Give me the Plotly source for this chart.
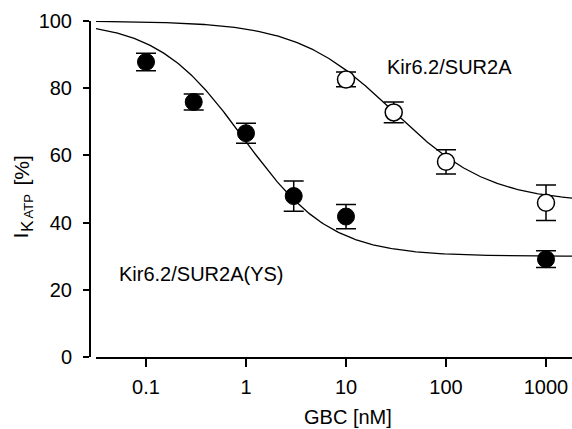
import numpy as np
import plotly.graph_objects as go

# GBC concentrations (nM) and normalised K_ATP current (%), mean ± SEM
conc_ys = [0.1, 0.3, 1, 3, 10, 1000]
current_ys = [87.8, 75.9, 66.6, 47.9, 41.8, 29.1]
sem_ys = [2.6, 2.4, 3.0, 4.5, 3.6, 2.5]

conc_wt = [10, 30, 100, 1000]
current_wt = [82.6, 72.8, 58.1, 45.9]
sem_wt = [2.2, 3.1, 3.6, 5.3]

# Hill fit parameters: (IC50 nM, Hill coefficient, residual %)
fit_ys = (0.95, 1.0, 30.0)
fit_wt = (30.0, 0.9, 46.0)

tick_vals = [0.1, 1, 10, 100, 1000]
tick_text = ["0.1", "1", "10", "100", "1000"]

FONT = "Liberation Sans, Arial, Helvetica, sans-serif"
X_LOG_RANGE = [-1.5, 3.26]

# plot-area geometry in pixels (used for the free-standing axis titles)
PAPER_LEFT, PAPER_W = 90, 482
PAPER_BOTTOM, PAPER_H = 357, 336


def px(x, y):
    """Convert pixel coordinates to paper coordinates."""
    return (x - PAPER_LEFT) / PAPER_W, (PAPER_BOTTOM - y) / PAPER_H


def hill(x, ic50, h, bottom):
    return bottom + (100.0 - bottom) / (1.0 + (x / ic50) ** h)


x_fit = np.logspace(X_LOG_RANGE[0], X_LOG_RANGE[1], 300)

fig = go.Figure()

for params in (fit_wt, fit_ys):
    fig.add_trace(go.Scatter(
        x=x_fit, y=hill(x_fit, *params), mode="lines",
        line=dict(color="black", width=1.3), hoverinfo="skip",
        showlegend=False,
    ))

err_style = dict(type="data", visible=True, color="black", thickness=1.5, width=10)

fig.add_trace(go.Scatter(
    x=conc_wt, y=current_wt, mode="markers",
    error_y=dict(array=sem_wt, **err_style),
    marker=dict(size=17, color="white", line=dict(color="black", width=1.5)),
    cliponaxis=False, showlegend=False,
))
fig.add_trace(go.Scatter(
    x=conc_ys, y=current_ys, mode="markers",
    error_y=dict(array=sem_ys, **err_style),
    marker=dict(size=17, color="black", line=dict(color="black", width=1)),
    cliponaxis=False, showlegend=False,
))

fig.add_annotation(
    x=1.39, y=86.3, xref="x", yref="y", text="Kir6.2/SUR2A",
    showarrow=False, xanchor="left", yanchor="middle",
    font=dict(family=FONT, size=20, color="black"),
)
fig.add_annotation(
    x=-1.293, y=24.85, xref="x", yref="y", text="Kir6.2/SUR2A(YS)",
    showarrow=False, xanchor="left", yanchor="middle",
    font=dict(family=FONT, size=20, color="black"),
)

# x-axis title
gx, gy = px(348, 417)
fig.add_annotation(
    x=gx, y=gy, xref="paper", yref="paper",
    text="GBC [nM]", showarrow=False, xanchor="center", yanchor="middle",
    font=dict(family=FONT, size=20, color="black"),
)

# y-axis title, built from pieces so the nested subscript sits correctly
y_title_parts = [
    ("I", 21, 20.6, 236),
    ("K", 17, 27.0, 226),
    ("ATP", 13, 28.4, 206),
    ("[%]", 21, 20.6, 171),
]
for text, size, cx, cy in y_title_parts:
    ax_, ay_ = px(cx, cy)
    fig.add_annotation(
        x=ax_, y=ay_, xref="paper", yref="paper", text=text,
        textangle=-90, showarrow=False, xanchor="center", yanchor="middle",
        font=dict(family=FONT, size=size, color="black"),
    )

fig.update_layout(
    width=572, height=429,
    margin=dict(l=90, r=0, t=21, b=72),
    paper_bgcolor="white", plot_bgcolor="white",
    font=dict(family=FONT, size=20, color="black"),
    xaxis=dict(
        type="log", range=X_LOG_RANGE, domain=[6 / 482, 1],
        tickvals=tick_vals, ticktext=tick_text,
        ticks="outside", ticklen=8, tickwidth=1.5, tickcolor="black",
        showline=True, linecolor="black", linewidth=1.5,
        showgrid=False, zeroline=False,
        tickfont=dict(family=FONT, size=20, color="black"),
        ticklabelstandoff=3,
    ),
    yaxis=dict(
        range=[0, 100], anchor="free", position=0,
        tickvals=[0, 20, 40, 60, 80, 100],
        ticks="outside", ticklen=6, tickwidth=1.5, tickcolor="black",
        showline=True, linecolor="black", linewidth=2,
        showgrid=False, zeroline=False,
        tickfont=dict(family=FONT, size=20, color="black"),
        ticklabelstandoff=7,
    ),
)

fig.write_html("out.html")
